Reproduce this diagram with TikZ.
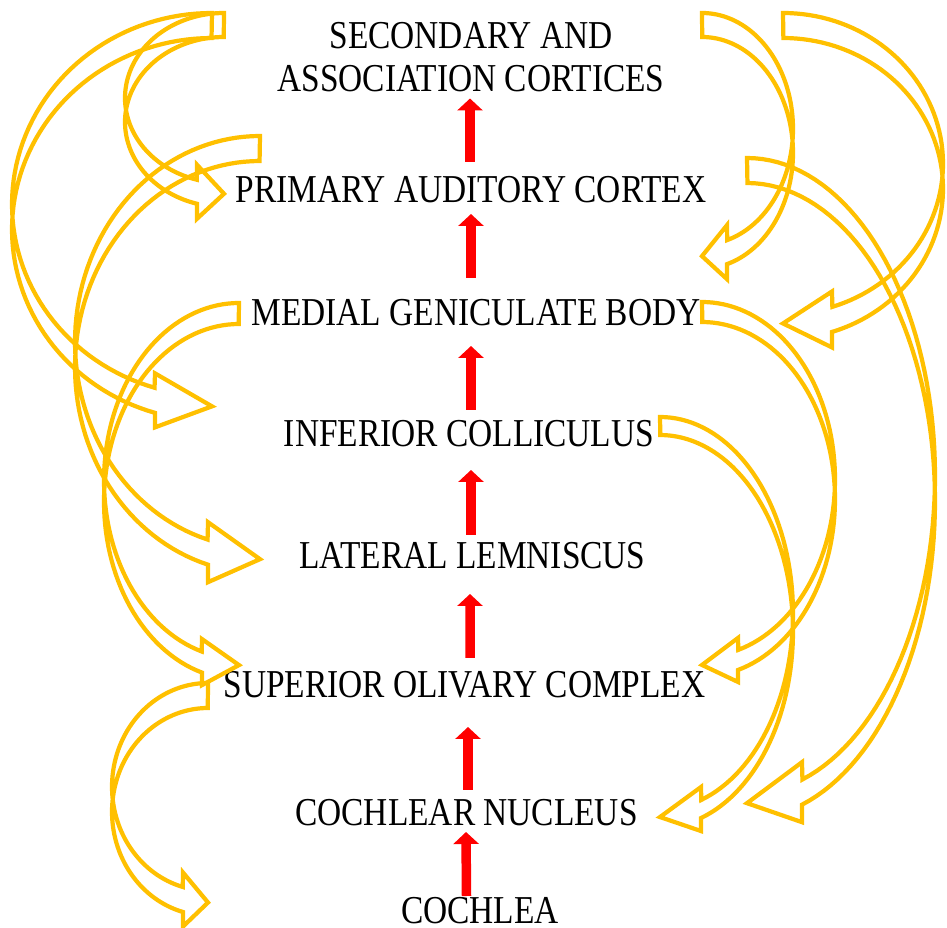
\documentclass[tikz,border=0pt]{standalone}
\usepackage{fontspec}
\setmainfont{Liberation Serif}[FakeStretch=0.845]
\usetikzlibrary{arrows.meta,calc}
\definecolor{gold}{HTML}{FFC000}
\definecolor{redarrow}{HTML}{FF0000}
\tikzset{
  lbl/.style={inner sep=0pt, font=\fontsize{22.5pt}{24.9pt}\selectfont},
  yarrow/.style={draw=gold, line width=2.4pt, line join=miter},
  redarr/.style={draw=redarrow, line width=0.19cm, -{Triangle[length=0.24cm, width=0.5cm]}}
}
% #1 side (-1 left, 1 right), #2 tail x, #3 tail top y, #4 band width,
% #5 horizontal radius, #6 vertical radius, #7 head length, #8 head half width, #9 tip drop
\newcommand\bandarrow[9]{%
  \pgfmathsetmacro\cyy{#3+#6}%
  \pgfmathsetmacro\tend{#1>0 ? acos(#7/#5) : acos(-#7/#5)}%
  \pgfmathsetmacro\tbeg{#1>0 ? -90 : 270}%
  \pgfmathsetmacro\ybase{\cyy + #6*sin(\tend) + #4/2}%
  \pgfmathsetmacro\xbase{#2 + #1*#7}%
  \draw[yarrow] plot[domain=0:1, samples=70, variable=\q]
      ({#2 + #5*cos(\tbeg + \q*(\tend-(\tbeg)))}, {\cyy + #6*sin(\tbeg + \q*(\tend-(\tbeg)))})
    -- ({\xbase}, {\ybase - #8}) -- ({#2}, {\ybase + #9}) -- ({\xbase}, {\ybase + #8})
    -- plot[domain=0:1, samples=70, variable=\q]
      ({#2 + #5*cos(\tend + \q*(\tbeg-(\tend)))}, {\cyy + #4 + #6*sin(\tend + \q*(\tbeg-(\tend)))})
    -- cycle;
}
\begin{document}
\begin{tikzpicture}[x=0.02cm, y=-0.02cm]
\useasboundingbox (0,0) rectangle (947,928);

% labels
\node[lbl, align=center, anchor=south] (sec) at (471,92.5) {SECONDARY AND\\ASSOCIATION CORTICES};
\node[lbl, anchor=base] (prim) at (471,203) {PRIMARY AUDITORY CORTEX};
\node[lbl, anchor=base] (med) at (476,326) {MEDIAL GENICULATE BODY};
\node[lbl, anchor=base] (inf) at (469,447) {INFERIOR COLLICULUS};
\node[lbl, anchor=base] (lat) at (472.5,569) {LATERAL LEMNISCUS};
\node[lbl, anchor=base] (sup) at (464.5,697.5) {SUPERIOR OLIVARY COMPLEX};
\node[lbl, anchor=base] (coch) at (466.5,826) {COCHLEAR NUCLEUS};
\node[lbl, anchor=base] (cochlea) at (480,923) {COCHLEA};

% ascending red arrows
\draw[redarr] ($(prim.base)+(-1,-41)$) -- ($(sec.south)+(-1,6)$);
\draw[redarr] ($(med.base)+(-5,-48)$) -- ($(prim.base)+(0,11)$);
\draw[redarr] ($(inf.base)+(2,-37)$) -- ($(med.base)+(-5,20)$);
\draw[redarr] ($(lat.base)+(-1.5,-34)$) -- ($(inf.base)+(2,23)$);
\draw[redarr] ($(sup.base)+(5.5,-39.5)$) -- ($(lat.base)+(-2.5,25)$);
\draw[redarr] ($(coch.base)+(1.5,-36)$) -- ($(sup.base)+(3.5,29.5)$);
\draw[redarr] ($(cochlea.base)+(-13.5,-27)$) -- ($(coch.base)+(-0.5,6)$);

% descending yellow block arrows, left side
\bandarrow{-1}{212}{13}{25}{200}{191.4}{57}{27}{6}
\bandarrow{-1}{224}{13}{24}{99}{85}{27}{27}{2}
\bandarrow{-1}{260}{136}{25}{185}{206}{52}{30}{7}
\bandarrow{-1}{239}{303}{21}{135}{177.7}{37}{23}{3}
\bandarrow{-1}{208}{683}{25}{96}{103.8}{25}{27}{3}
% right side
\bandarrow{1}{702}{13}{24}{91}{115.8}{25}{27}{4}
\bandarrow{1}{783}{13}{25}{160}{150.6}{49}{28}{4}
\bandarrow{1}{747}{158}{25}{188}{317.8}{55}{30}{11}
\bandarrow{1}{702}{302}{20}{133}{177.3}{36}{22}{5}
\bandarrow{1}{660}{417}{18}{133}{196.3}{41}{22}{8}
\end{tikzpicture}
\end{document}
